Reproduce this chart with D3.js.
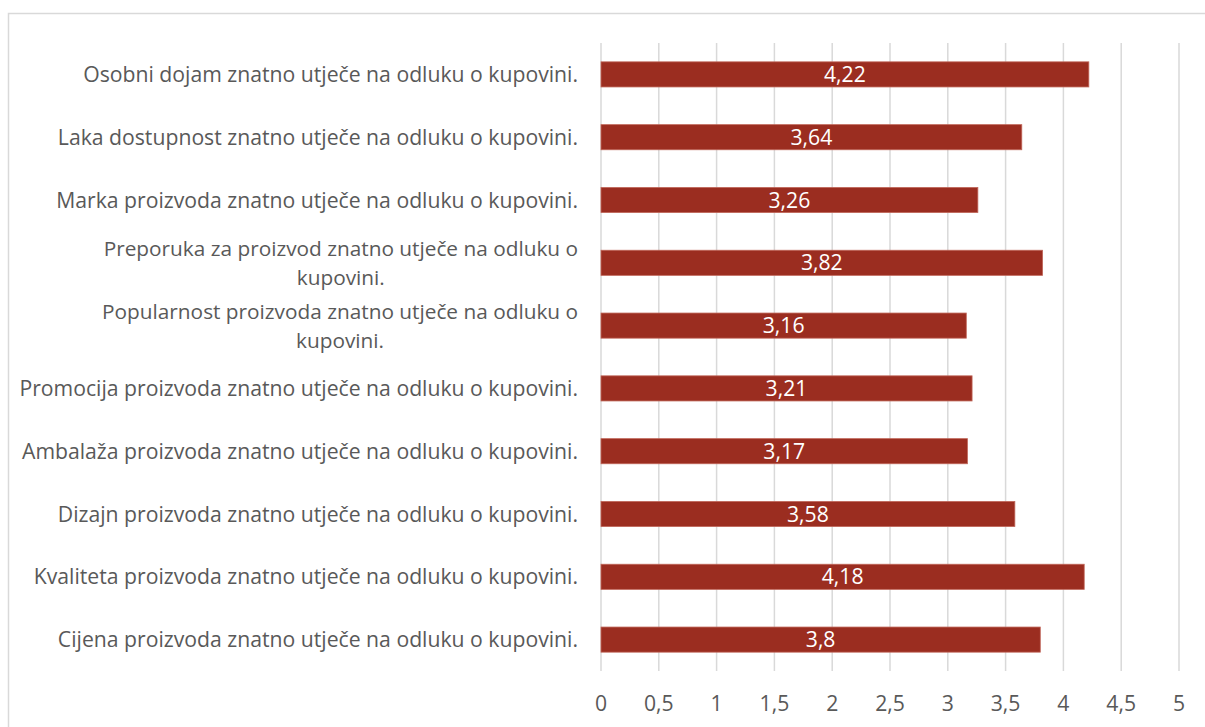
<!DOCTYPE html>
<html><head><meta charset="utf-8">
<script src="https://cdn.jsdelivr.net/npm/d3@7"></script>
<style>body{margin:0;background:#fff;}svg{display:block;}</style>
</head><body>
<svg id="c" width="1205" height="727"></svg>
<script>
const categories = [
  ["Osobni dojam znatno utječe na odluku o kupovini."],
  ["Laka dostupnost znatno utječe na odluku o kupovini."],
  ["Marka proizvoda znatno utječe na odluku o kupovini."],
  ["Preporuka za proizvod znatno utječe na odluku o", "kupovini."],
  ["Popularnost proizvoda znatno utječe na odluku o", "kupovini."],
  ["Promocija proizvoda znatno utječe na odluku o kupovini."],
  ["Ambalaža proizvoda znatno utječe na odluku o kupovini."],
  ["Dizajn proizvoda znatno utječe na odluku o kupovini."],
  ["Kvaliteta proizvoda znatno utječe na odluku o kupovini."],
  ["Cijena proizvoda znatno utječe na odluku o kupovini."]
];
const values = [4.22, 3.64, 3.26, 3.82, 3.16, 3.21, 3.17, 3.58, 4.18, 3.8];
const ticks = [0, 0.5, 1, 1.5, 2, 2.5, 3, 3.5, 4, 4.5, 5];

const svg = d3.select("#c");
const font = "'Open Sans', sans-serif";
const fs = 21.2;
const fmt = v => String(v).replace(".", ",");

svg.append("rect").attr("x", 8.5).attr("y", 13.5).attr("width", 1210).attr("height", 730)
  .attr("fill", "none").attr("stroke", "#d9d9d9").attr("stroke-width", 1.5);

const x = d3.scaleLinear().domain([0, 5]).range([601, 1179]);
const y = d3.scaleBand().domain(d3.range(categories.length)).range([43, 671]).paddingInner(0.6).paddingOuter(0.3);

svg.append("g").selectAll("line").data(ticks).join("line")
  .attr("x1", d => x(d)).attr("x2", d => x(d)).attr("y1", 43).attr("y2", 671)
  .attr("stroke", "#d9d9d9").attr("stroke-width", 1.5);

svg.append("g").selectAll("rect").data(values).join("rect")
  .attr("x", x(0)).attr("y", (d, i) => y(i))
  .attr("width", d => x(d) - x(0)).attr("height", y.bandwidth())
  .attr("fill", "#9b2d20").attr("stroke", "#c0665a").attr("stroke-width", 0.8);

svg.append("g").selectAll("text").data(values).join("text")
  .attr("x", d => (x(0) + x(d)) / 2).attr("y", (d, i) => y(i) + y.bandwidth() / 2)
  .attr("dy", "0.36em").attr("text-anchor", "middle")
  .attr("fill", "#fff").attr("font-family", font).attr("font-size", fs)
  .text(d => fmt(d));

const lab = svg.append("g").attr("font-family", font).attr("font-size", fs).attr("fill", "#595959");
categories.forEach((lines, i) => {
  const cy = y(i) + y.bandwidth() / 2;
  if (lines.length === 1) {
    lab.append("text").attr("x", 578).attr("y", cy).attr("dy", "0.36em")
      .attr("text-anchor", "end").text(lines[0]);
  } else {
    const l1 = lab.append("text").attr("x", 578).attr("y", cy - 14.5).attr("dy", "0.36em")
      .attr("font-size", 20.8).attr("text-anchor", "end").text(lines[0]);
    const w = l1.node().getComputedTextLength();
    lab.append("text").attr("x", 578 - w / 2).attr("y", cy + 14.5).attr("dy", "0.36em")
      .attr("font-size", 20.8).attr("text-anchor", "middle").text(lines[1]);
  }
});

svg.append("g").selectAll("text").data(ticks).join("text")
  .attr("x", d => x(d)).attr("y", 703).attr("dy", "0.36em").attr("text-anchor", "middle")
  .attr("fill", "#595959").attr("font-family", font).attr("font-size", fs)
  .text(d => fmt(d));
</script>
</body></html>
